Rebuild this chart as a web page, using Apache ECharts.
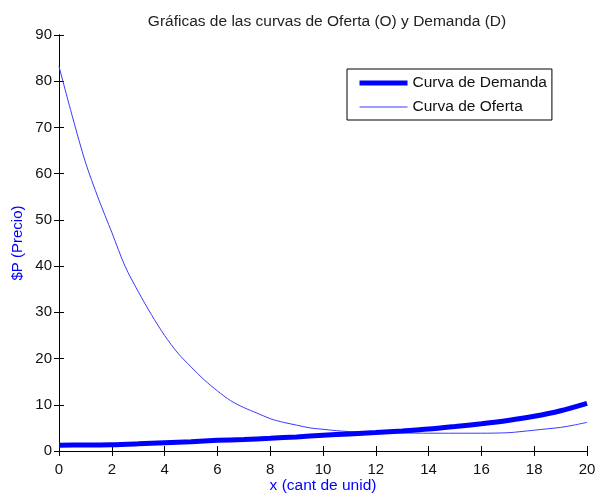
<!DOCTYPE html>
<html>
<head>
<meta charset="utf-8">
<script src="https://cdn.jsdelivr.net/npm/echarts@6/dist/echarts.min.js"></script>
<style>
  html, body { margin: 0; padding: 0; background: #fff; }
  #chart { width: 595px; height: 495px; }
</style>
</head>
<body>
<div id="chart"></div>
<script>
// Supply curve (Oferta) sampled every half unit
const ofertaX = [0, 0.5, 1, 1.5, 2, 2.5, 3, 3.5, 4, 4.5, 5, 5.5, 6, 6.5, 7, 7.5, 8, 8.5, 9, 9.5,
                 10, 10.5, 11, 11.5, 12, 13, 14, 15, 16, 17, 17.5, 18, 18.5, 19, 19.5, 20];
const ofertaP = [83.2, 72.5, 62.5, 54.5, 47.3, 40.0, 34.5, 29.5, 25.0, 21.2, 18.2, 15.4, 13.0, 10.9, 9.4, 8.2, 7.0, 6.2, 5.6, 5.0,
                 4.7, 4.4, 4.2, 4.05, 4.0, 3.9, 3.85, 3.85, 3.85, 3.95, 4.2, 4.5, 4.8, 5.1, 5.6, 6.2];

// Demand curve (Demanda) sampled every unit
const demandaX = [0, 1, 2, 3, 4, 5, 6, 7, 8, 9, 10, 11, 12, 13, 14, 15, 16, 17, 18, 19, 20];
const demandaP = [1.25, 1.3, 1.35, 1.55, 1.8, 2.0, 2.3, 2.5, 2.75, 3.05, 3.4, 3.7, 4.0, 4.35, 4.75, 5.3, 5.9, 6.6, 7.5, 8.7, 10.3];

const FONT = '"Liberation Sans", Arial, sans-serif';

const chart = echarts.init(document.getElementById('chart'), null, { renderer: 'canvas' });

const frameAxis = {
  axisLine: { show: true, lineStyle: { color: '#000', width: 1 } },
  axisTick: { show: true, inside: true, length: 5, lineStyle: { color: '#000' } },
  splitLine: { show: false }
};

chart.setOption({
  animation: false,
  backgroundColor: '#fff',
  title: {
    text: 'Gráficas de las curvas de Oferta (O) y Demanda (D)',
    left: 322, top: 9, textAlign: 'center',
    textStyle: { fontFamily: FONT, fontSize: 15.5, fontWeight: 'normal', color: '#222' }
  },
  legend: {
    orient: 'vertical',
    left: 347, top: 69,
    padding: [6, 5, 5, 10],
    itemWidth: 48, itemHeight: 16, itemGap: 8,
    backgroundColor: '#fff',
    borderColor: '#000', borderWidth: 1, borderRadius: 0,
    textStyle: { fontFamily: FONT, fontSize: 15.5, color: '#111' },
    data: [
      { name: 'Curva de Demanda', lineStyle: { width: 5, color: '#0000ff' }, itemStyle: { opacity: 0 } },
      { name: 'Curva de Oferta', lineStyle: { width: 1, color: '#3a3aff' }, itemStyle: { opacity: 0 } }
    ]
  },
  grid: { left: 59, right: 8, top: 35, bottom: 44, containLabel: false, outerBoundsMode: 'none' },
  xAxis: [
    Object.assign({
      type: 'value', min: 0, max: 20, interval: 2,
      name: 'x (cant de unid)', nameLocation: 'middle', nameGap: 27, nameMoveOverlap: false,
      nameTextStyle: { fontFamily: FONT, fontSize: 15.5, color: '#0000ff' },
      axisLabel: { fontFamily: FONT, fontSize: 15, color: '#111', margin: 11 }
    }, frameAxis),
    Object.assign({
      type: 'value', min: 0, max: 20, interval: 2, position: 'top',
      axisLabel: { show: false }
    }, frameAxis)
  ],
  yAxis: [
    Object.assign({
      type: 'value', min: 0, max: 90, interval: 10,
      name: '$P (Precio)', nameLocation: 'middle', nameGap: 34, nameMoveOverlap: false,
      nameTextStyle: { fontFamily: FONT, fontSize: 15, color: '#0000ff' },
      axisLabel: { fontFamily: FONT, fontSize: 15, color: '#111', margin: 7 }
    }, frameAxis),
    Object.assign({
      type: 'value', min: 0, max: 90, interval: 10, position: 'right',
      axisLabel: { show: false }
    }, frameAxis)
  ],
  series: [
    {
      name: 'Curva de Demanda', type: 'line', xAxisIndex: 0, yAxisIndex: 0,
      symbol: 'none', smooth: 0.3, z: 3,
      lineStyle: { color: '#0000ff', width: 5 },
      itemStyle: { color: '#0000ff' },
      data: demandaX.map((x, i) => [x, demandaP[i]])
    },
    {
      name: 'Curva de Oferta', type: 'line', xAxisIndex: 0, yAxisIndex: 0,
      symbol: 'none', smooth: 0.3, z: 2,
      lineStyle: { color: '#3a3aff', width: 1 },
      itemStyle: { color: '#3a3aff' },
      data: ofertaX.map((x, i) => [x, ofertaP[i]])
    }
  ]
});
</script>
</body>
</html>
